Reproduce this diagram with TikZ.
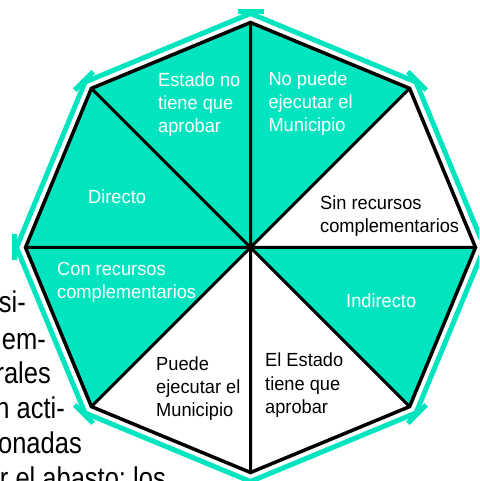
\documentclass[tikz,border=0pt]{standalone}
\usepackage{fontspec}
\setmainfont{Liberation Sans}
\newfontfamily\lblfont{Liberation Sans}[FakeStretch=0.96]
\newfontfamily\bodyfont{Liberation Sans}[FakeStretch=0.85]
\definecolor{aqua}{RGB}{0,229,192}
\begin{document}
\begin{tikzpicture}[x=1pt,y=1pt,
  lbl/.style={anchor=base west,align=left,inner sep=0pt,font=\lblfont\fontsize{19}{23.3}\selectfont},
  body/.style={anchor=base east,inner sep=0pt,font=\bodyfont\fontsize{30}{35}\selectfont}]
\useasboundingbox (-250.5,-233.5) rectangle (228.5,247.5);
\clip (-250.5,-233.5) rectangle (228.5,247.5);
% page text running round the figure
\node[body] (t1) at (-224.5,-65.5) {si-};
\node[body] (t2) at (-204.5,-101.5) {em-};
\node[body] (t3) at (-199.5,-135.5) {rales};
\node[body] (t4) at (-185.5,-170.5) {n acti-};
\node[body] (t5) at (-168.5,-205.5) {onadas};
\node[body] (t6) at (-84.5,-240.5) {r el abasto; los};
% octagon
\coordinate (o) at (0,0);
\foreach \i/\a in {1/90,2/45,3/0,4/-45,5/-90,6/-135,7/180,8/135}
  \coordinate (v\i) at (\a:225);
\foreach \i/\j/\c in {1/2/aqua,2/3/white,3/4/aqua,4/5/white,5/6/white,6/7/aqua,7/8/aqua,8/1/aqua}
  \fill[\c] (o) -- (v\i) -- (v\j) -- cycle;
\draw[line width=3pt] (v1) -- (v5) (v2) -- (v6) (v3) -- (v7) (v4) -- (v8);
\draw[line width=3.5pt,line join=miter] (v1) -- (v2) -- (v3) -- (v4) -- (v5) -- (v6) -- (v7) -- (v8) -- cycle;
% outer frame with its tabs
\draw[aqua,line width=5pt,line join=miter] (90:234) -- (45:234) -- (0:234) -- (-45:234)
  -- (-90:234) -- (-135:234) -- (180:234) -- (135:234) -- cycle;
\foreach \a in {90,45,0,-45,-90,-135,180,135}
  \fill[aqua,rotate=\a] (233,-13) rectangle (238,13);
% labels (placed by the baseline of their last line)
\node[lbl,text=white] (est) at (-92.5,114.8) {Estado no\\tiene que\\aprobar};
\node[lbl,text=white] (nop) at (17.8,115.5) {No puede\\ejecutar el\\Municipio};
\node[lbl] (sin) at (69.5,14.5) {Sin recursos\\complementarios};
\node[lbl,text=white] (dir) at (-162.5,43.5) {Directo};
\node[lbl,text=white] (con) at (-193.5,-51.5) {Con recursos\\complementarios};
\node[lbl,text=white] (ind) at (95.5,-60.5) {Indirecto};
\node[lbl] (ele) at (14.5,-165.8) {El Estado\\tiene que\\aprobar};
\node[lbl] (pue) at (-94.5,-169.2) {Puede\\ejecutar el\\Municipio};
\end{tikzpicture}
\end{document}
